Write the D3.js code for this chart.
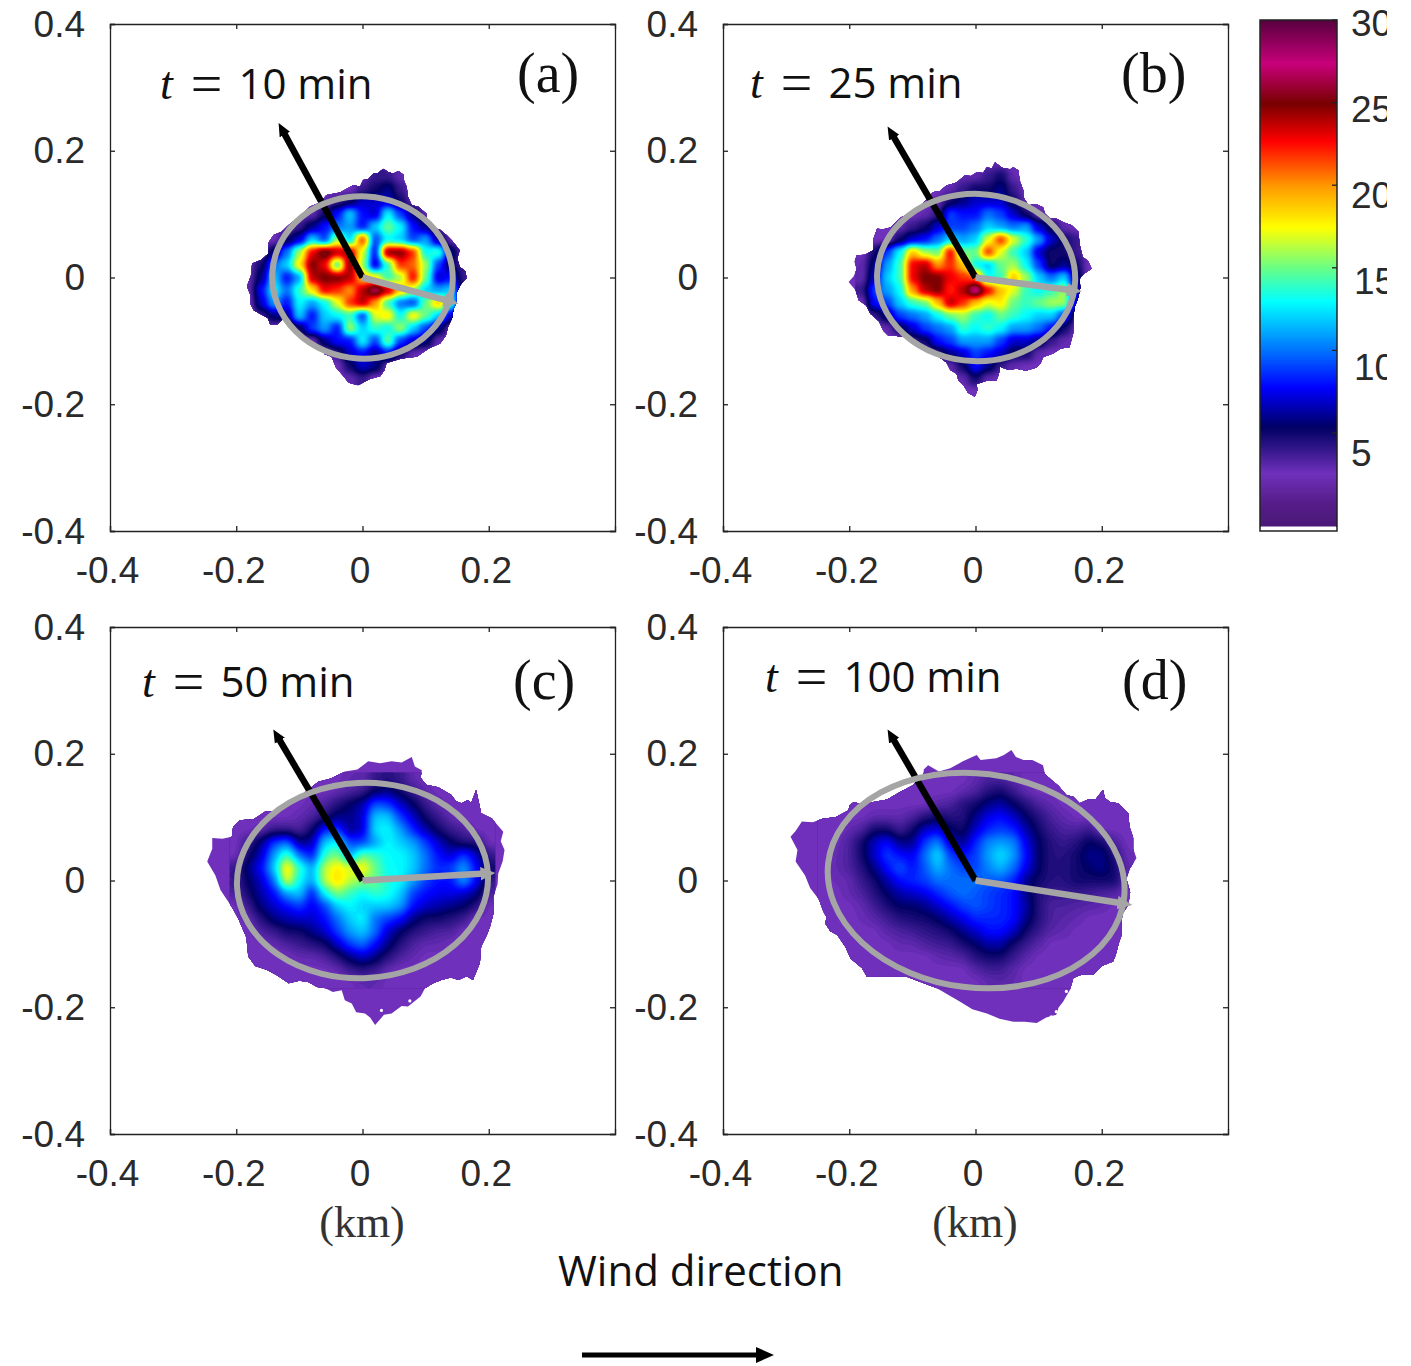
<!DOCTYPE html>
<html>
<head>
<meta charset="utf-8">
<script src="https://cdn.jsdelivr.net/npm/d3@7"></script>
<style>
  body { margin: 0; background: #fff; }
  svg { display: block; }
</style>
</head>
<body>
<div id="plot"></div>
<script>
//-------------------------colour bar------------------------------
const cbValues = [-0.6, 0.8, 2.6, 3.9, 5.4, 7.8, 10, 13, 15, 17.5, 20, 22.7, 25, 27.4, 30];
const cbColors = ["#4a1a78", "#561c88", "#7030bc", "#3a1a90", "#000064", "#0000ff", "#0070ff", "#00ffff",
                  "#66ff88", "#ffff00", "#ff9900", "#ff0000", "#780000", "#c8007a", "#5a0040"];
const cbTicks = [5, 10, 15, 20, 25, 30];

//-------------------------panel axes-------------------------------
const xTicks = [-0.4, -0.2, 0, 0.2];
const yTicks = [-0.4, -0.2, 0, 0.2, 0.4];

//----outlines of the plume, km-------------------------------------
const outlineA = [[.017,.164],[.025,.165],[.033,.172],[.041,.166],[.049,.164],[.057,.168],[.065,.162],[.066,.152],[.070,.143],[.072,.128],[.078,.114],[.088,.112],[.101,.101],[.103,.088],[.109,.078],[.122,.076],[.133,.067],[.142,.058],[.154,.043],[.150,.030],[.154,.017],[.163,.010],[.165,-.001],[.155,-.012],[.149,-.025],[.149,-.038],[.144,-.051],[.142,-.064],[.136,-.077],[.132,-.092],[.123,-.104],[.105,-.112],[.086,-.125],[.062,-.128],[.038,-.135],[.035,-.146],[.028,-.156],[.012,-.160],[-.007,-.170],[-.022,-.166],[-.030,-.156],[-.042,-.142],[-.049,-.125],[-.060,-.121],[-.067,-.109],[-.088,-.099],[-.107,-.083],[-.115,-.070],[-.125,-.064],[-.135,-.074],[-.146,-.075],[-.150,-.064],[-.159,-.059],[-.172,-.052],[-.178,-.041],[-.178,-.027],[-.183,-.014],[-.176,.005],[-.175,.022],[-.160,.028],[-.149,.038],[-.149,.055],[-.141,.067],[-.128,.072],[-.117,.083],[-.098,.097],[-.083,.112],[-.068,.118],[-.057,.130],[-.036,.134],[-.014,.146],[-.004,.143],[.001,.154],[.010,.156]];
const outlineB = [[.031,.182],[.042,.173],[.055,.171],[.060,.174],[.068,.169],[.070,.153],[.076,.137],[.077,.125],[.084,.114],[.096,.116],[.107,.111],[.110,.101],[.118,.093],[.128,.093],[.139,.087],[.152,.083],[.163,.072],[.165,.052],[.170,.032],[.178,.027],[.184,.014],[.172,.006],[.165,-.002],[.166,-.016],[.163,-.031],[.157,-.047],[.155,-.063],[.155,-.087],[.149,-.110],[.135,-.112],[.123,-.120],[.107,-.126],[.103,-.136],[.097,-.142],[.080,-.147],[.065,-.144],[.052,-.146],[.039,-.141],[.037,-.153],[.033,-.163],[.018,-.163],[.002,-.168],[.003,-.178],[-.001,-.188],[-.012,-.182],[-.019,-.170],[-.027,-.163],[-.030,-.152],[-.040,-.146],[-.046,-.134],[-.060,-.124],[-.077,-.110],[-.092,-.102],[-.109,-.089],[-.118,-.094],[-.127,-.092],[-.138,-.092],[-.146,-.084],[-.153,-.069],[-.167,-.057],[-.173,-.044],[-.185,-.036],[-.190,-.020],[-.201,-.007],[-.193,.002],[-.188,.014],[-.192,.025],[-.188,.035],[-.175,.036],[-.162,.043],[-.162,.060],[-.156,.077],[-.146,.076],[-.135,.079],[-.118,.095],[-.101,.103],[-.085,.115],[-.067,.135],[-.057,.136],[-.046,.145],[-.030,.150],[-.017,.161],[-.007,.160],[.002,.166],[.012,.165],[.018,.174],[.026,.172]];
const outlineC = [[.078,.195],[.083,.180],[.094,.174],[.092,.162],[.101,.151],[.120,.147],[.141,.135],[.148,.125],[.157,.122],[.167,.127],[.172,.122],[.180,.143],[.184,.125],[.188,.106],[.205,.098],[.223,.077],[.219,.062],[.225,.048],[.222,.030],[.215,.011],[.214,-.006],[.207,-.026],[.208,-.050],[.202,-.073],[.197,-.086],[.188,-.104],[.186,-.130],[.175,-.157],[.165,-.151],[.152,-.157],[.140,-.153],[.125,-.157],[.112,-.162],[.099,-.170],[.092,-.183],[.072,-.199],[.062,-.198],[.046,-.210],[.034,-.212],[.020,-.228],[.012,-.216],[.004,-.210],[-.010,-.208],[-.017,-.194],[-.028,-.189],[-.033,-.173],[-.047,-.176],[-.059,-.170],[-.072,-.168],[-.086,-.160],[-.100,-.158],[-.117,-.162],[-.135,-.150],[-.152,-.141],[-.170,-.135],[-.181,-.120],[-.184,-.090],[-.196,-.062],[-.205,-.045],[-.225,-.015],[-.233,.008],[-.246,.030],[-.238,.050],[-.238,.067],[-.222,.066],[-.207,.069],[-.205,.085],[-.194,.095],[-.172,.097],[-.154,.109],[-.138,.110],[-.123,.117],[-.100,.132],[-.070,.156],[-.050,.161],[-.028,.172],[-.008,.175],[.009,.188],[.028,.185],[.046,.188],[.062,.186]];
const outlineD = [[.057,.206],[.064,.195],[.076,.190],[.090,.190],[.107,.182],[.110,.168],[.120,.159],[.131,.150],[.144,.135],[.155,.132],[.165,.122],[.178,.128],[.190,.128],[.202,.143],[.205,.130],[.213,.124],[.226,.122],[.242,.106],[.244,.085],[.250,.067],[.250,.050],[.255,.035],[.244,.018],[.239,.003],[.245,-.018],[.242,-.039],[.233,-.052],[.231,-.070],[.232,-.085],[.228,-.096],[.222,-.118],[.218,-.128],[.200,-.135],[.186,-.149],[.170,-.148],[.155,-.154],[.150,-.172],[.139,-.191],[.132,-.200],[.128,-.212],[.112,-.216],[.097,-.225],[.078,-.223],[.060,-.223],[.038,-.218],[.018,-.210],[-.005,-.203],[-.025,-.191],[-.042,-.181],[-.061,-.170],[-.085,-.161],[-.109,-.152],[-.140,-.151],[-.172,-.152],[-.180,-.138],[-.198,-.123],[-.206,-.105],[-.219,-.086],[-.230,-.080],[-.238,-.068],[-.236,-.058],[-.241,-.049],[-.248,-.030],[-.262,-.012],[-.270,.008],[-.285,.030],[-.282,.048],[-.293,.069],[-.285,.078],[-.275,.093],[-.258,.092],[-.241,.098],[-.222,.100],[-.201,.111],[-.200,.118],[-.193,.124],[-.178,.120],[-.162,.124],[-.140,.128],[-.119,.140],[-.100,.150],[-.082,.166],[-.082,.175],[-.075,.182],[-.058,.172],[-.040,.177],[-.020,.188],[.002,.198],[.008,.190],[.033,.193],[.045,.198]];

//----holes at the frayed lower edge, km-----------------------------
const specklesC = [[-.142,-.150],[-.045,-.183],[.075,-.190],[.030,-.205],[.115,-.165]];
const specklesD = [[.144,-.175],[.155,-.165],[.165,-.154],[.157,-.189],[.128,-.207],[.120,-.215],[.134,-.202],[.190,-.150]];

//----concentration, rows top to bottom, 0 = rim--------------------------
// a: x -.18 to .18 step .02, y .16 down
const fieldA = [
  [0,0,0,0,0,0,0,0,0,3,4,4,3,0,0,0,0,0,0],
  [0,0,0,0,0,0,0,0,0,4,5,6,4,0,0,0,0,0,0],
  [0,0,0,0,0,0,3,4,5,7,7,7,5,3,0,0,0,0,0],
  [0,0,0,0,0,3,5,8,12,8,7,13,9,6,3,0,0,0,0],
  [0,0,0,3,4,6,8,10,11,8,12,15,13,8,6,3,0,0,0],
  [0,0,0,5,7,12,9,16,12,22,9,13,12,9,11,6,3,0,0],
  [0,3,6,10,16,23,26,24,24,17,8,25,25,22,13,14,6,3,0],
  [3,5,10,12,18,25,23,14,25,16,7,14,22,21,16,9,5,4,0],
  [3,6,12,8,11,24,25,25,24,19,18,14,16,23,15,7,8,4,0],
  [3,8,13,10,14,18,23,22,20,24,27,24,19,16,12,11,12,5,0],
  [0,7,11,8,13,11,13,17,22,24,20,14,10,9,15,19,14,3,0],
  [0,4,6,6,12,8,12,13,14,9,17,18,13,18,15,12,7,0,0],
  [0,0,0,0,5,9,11,8,16,12,14,13,16,12,9,6,3,0,0],
  [0,0,0,0,0,0,6,8,8,13,9,15,9,7,6,3,0,0,0],
  [0,0,0,0,0,0,0,4,7,8,6,8,5,3,0,0,0,0,0],
  [0,0,0,0,0,0,0,0,5,7,6,3,0,0,0,0,0,0,0],
  [0,0,0,0,0,0,0,0,3,4,0,0,0,0,0,0,0,0,0]
];
// b: x -.18 to .18 step .02, y .18 down
const fieldB = [
  [0,0,0,0,0,0,0,0,0,0,3,3,0,0,0,0,0,0,0],
  [0,0,0,0,0,0,0,0,3,3,4,5,3,0,0,0,0,0,0],
  [0,0,0,0,0,0,0,3,4,5,5,6,4,0,0,0,0,0,0],
  [0,0,0,0,0,0,3,5,6,7,7,7,5,3,0,0,0,0,0],
  [0,0,0,0,0,3,4,9,8,8,10,9,7,5,3,0,0,0,0],
  [0,0,0,3,4,5,7,9,9,10,12,11,10,11,7,5,3,0,0],
  [0,0,0,5,7,8,10,12,11,12,17,22,17,14,11,7,5,4,3],
  [0,5,9,13,19,16,15,23,15,15,22,17,14,12,7,5,5,4,0],
  [3,6,11,14,23,24,20,22,19,13,12,15,16,13,9,5,6,5,0],
  [3,7,12,14,23,25,25,23,22,21,13,14,19,16,12,10,12,6,0],
  [4,9,11,13,20,24,25,22,24,28,23,19,17,14,13,14,16,7,0],
  [0,8,9,12,14,15,19,24,22,19,17,18,15,14,15,16,16,7,0],
  [0,4,6,9,10,11,13,15,16,14,13,15,14,13,12,12,9,4,0],
  [0,0,3,5,7,9,10,11,14,13,14,13,11,11,10,8,5,3,0],
  [0,0,0,0,4,5,8,9,11,11,11,9,7,7,6,4,3,0,0],
  [0,0,0,0,0,0,4,6,7,9,8,7,5,5,3,0,0,0,0],
  [0,0,0,0,0,0,0,3,5,8,6,4,3,0,0,0,0,0,0],
  [0,0,0,0,0,0,0,0,3,5,3,0,0,0,0,0,0,0,0],
  [0,0,0,0,0,0,0,0,0,0,0,0,0,0,0,0,0,0,0]
];
// c: x -.20 to .20 step .02, y .16 down
const fieldC = [
  [0,0,0,0,0,0,0,0,0,3,3,4,4.5,4,3,0,0,0,0,0,0],
  [0,0,0,0,0,0,0,0,3,3.5,4,5.5,6,5,4,3,0,0,0,0,0],
  [0,0,0,0,0,0,3,3.5,4.5,5.5,6.5,9.5,9,7,5.5,4,3,0,0,0,0],
  [0,0,0,0,0,3,3.5,4.5,6,6,7,12,12,9,7,5,4,3,0,0,0],
  [0,0,3,4,4,3.5,5,8.5,9,6,7,12.5,13,11,8.5,6.5,5,4,3.5,0,0],
  [0,4,6,9,10,6,6.5,12,13,9,9,11,13,12,11,9,7,5.5,4.5,4.5,0],
  [0,5,7,11,14.5,10,8,14,15.5,11,15,14,13,13,12,10,8,7,9,7,4],
  [4,6,8,12,18.5,14,11,16.5,18,17,18,15,13,13,12,10,8.5,9,11,8,5],
  [4,5.5,7,10,17.5,13,11,16.5,18.5,16.5,15.5,15,13.5,13,11,9,8,8,11,8,4],
  [3.5,5,6.5,8,11,12,8,13,15.5,14,13,14,13.5,12,9,8,7.5,7.5,7,6,3.5],
  [0,4,6,7,8,9,7.5,9,12,13,12,12,12,11,8,7,6.5,6,5.5,4.5,0],
  [0,3,4.5,6,6.5,7,7,8,10,12,13,10,9,8,6,5,5,4.5,4,0,0],
  [0,0,3.5,4,5,5,6,7,9,11,12,10,7,5.5,4.5,4,3.5,3.5,0,0,0],
  [0,0,0,3,3.5,4,4.5,5,7,9,10,8,6,4.5,3.5,3,3,0,0,0,0],
  [0,0,0,0,0,3,3,3.5,4.5,6,7,6,4.5,3.5,3,0,0,0,0,0,0],
  [0,0,0,0,0,0,0,0,3,4,4.5,4,3,0,0,0,0,0,0,0,0],
  [0,0,0,0,0,0,0,0,0,0,3,3,0,0,0,0,0,0,0,0,0]
];
// d: x -.24 to .24 step .02, y .16 down
const fieldD = [
  [0,0,0,0,0,0,0,0,0,0,0,0,3,3.5,3.5,3,0,0,0,0,0,0,0,0,0],
  [0,0,0,0,0,0,0,0,0,0,0,3,3.5,4.5,5,4,3,0,0,0,0,0,0,0,0],
  [0,0,0,0,0,0,0,0,0,3.2,3.5,4.5,5,6,6.5,5.5,4.5,3.5,3,0,0,0,0,0,0],
  [0,0,0,0,3,3,3,3.5,4.5,5,4.5,4.5,6,7.5,8,7,5.5,4.5,3.5,3,0,0,0,0,0],
  [0,0,3,3.5,5,5,3.8,5,7,7.5,5.5,5,7,8.5,9,8.5,6.5,5,4,3.5,3.5,4,0,0,0],
  [0,2.8,3.5,5,7,8,6,6,9,10.5,7,6,8.5,10.5,11,10.5,7.5,5.5,4.5,4,4.5,5.5,5,3.5,0],
  [0,3,3.5,5,7,9,8,7.5,10,12.5,9,8,9,11,12.5,11,8,5.5,4.5,4.5,5,6,6,4.5,2.8],
  [0,3,3.5,4.5,6,8,9.5,8,9.5,11.5,10,9,9,10.5,11.5,10,7.5,5.5,4.5,4.5,5,5.5,6,5,3],
  [0,2.8,3,4,5,6.5,8,8.5,9,10,10,10,10,9.5,9.5,8.5,6,5,4.5,4.5,5,5,5,5,3],
  [0,0,3,3.5,4.5,5.5,6.5,7,7.5,8.5,9.5,10,9.5,9,8.5,8,6,4.5,4,4,4,3.8,3.5,3.3,0],
  [0,0,0,3,3.8,4.8,5.5,5.5,6,7,8,9,9.5,9,8.5,8,6.5,4.5,3.5,3.5,3.3,3.2,3,0,0],
  [0,0,0,2.8,3.2,3.8,4.5,4.8,5,5.5,6.5,7.5,8.5,8.5,8.5,8,6,4.5,3.5,3.2,3,0,0,0,0],
  [0,0,0,0,0,3.2,3.5,3.8,4.2,4.5,5,6,7,8,8,7,5,4,3.2,3,0,0,0,0,0],
  [0,0,0,0,0,0,3,3,3.5,3.8,4,4.8,5.5,6.5,6.5,5,4,3.2,0,0,0,0,0,0,0],
  [0,0,0,0,0,0,0,0,0,3,3.2,3.5,4.5,5,5,4,3.2,0,0,0,0,0,0,0,0],
  [0,0,0,0,0,0,0,0,0,0,0,0,3.3,3.8,3.8,3.2,0,0,0,0,0,0,0,0,0],
  [0,0,0,0,0,0,0,0,0,0,0,0,0,3,3.2,3,0,0,0,0,0,0,0,0,0]
];
const fieldX0 = [-.18, -.18, -.20, -.24];
const fieldY0 = [.16, .18, .16, .16];
const fieldStep = [.02, .02, .02, .02];

//----fitted ellipse: cx, cy, rx, ry (km), rotation (deg)--------------
const ellipses = [[0,0,.143,.128,3], [.001,0,.157,.132,2], [0,0,.199,.154,-3], [.001,0,.236,.169,7]];
const blackArrows = [[-.126,.231], [-.132,.226], [-.134,.226], [-.132,.226]];
const greyArrows = [[.136,-.037], [.152,-.020], [.194,.011], [.232,-.036]];

const panelNames = ["(a)", "(b)", "(c)", "(d)"];
const timeLabels = ["10 min", "25 min", "50 min", "100 min"];
const outlines = [outlineA, outlineB, outlineC, outlineD];
const fields = [fieldA, fieldB, fieldC, fieldD];
const speckles = [[], [], specklesC, specklesD];

const w = 1411;
const h = 1366;
const restValue = 2.6; //flat purple at the rim

const colorScale = d3.scaleLinear().domain(cbValues).range(cbColors);

const svg = d3.select("#plot").append("svg").attr("width", w).attr("height", h);
svg.append("rect").attr("width", w).attr("height", h).attr("fill", "#fff");

const defs = svg.append("defs");
function addMarker(id, col, size) {
  defs.append("marker")
      .attr("id", id)
      .attr("viewBox", "0 0 10 10")
      .attr("refX", 3)
      .attr("refY", 5)
      .attr("markerUnits", "userSpaceOnUse")
      .attr("markerWidth", size)
      .attr("markerHeight", size)
      .attr("orient", "auto")
      .append("path")
      .attr("d", "M0,0.5L10,5L0,9.5z")
      .attr("fill", col);
}
addMarker("headBlack", "#000", 13);
addMarker("headGrey", "#a5a5a5", 15);

const tickFont = "'Liberation Sans', Arial, sans-serif";
const panelBox = [[110, 24], [723, 24], [110, 627], [723, 627]];
const panelW = 505;
const panelH = 507;

panelBox.forEach((box, i) => drawPanel(i, box[0], box[1]));
drawColorbar();
drawLabels();

function drawPanel(i, left, top) {
  const x = d3.scaleLinear().domain([-.4, .4]).range([left, left + panelW]);
  const y = d3.scaleLinear().domain([-.4, .4]).range([top + panelH, top]);
  const g = svg.append("g");

  const clipId = "clip" + i;
  const outlinePath = d3.line().x(d => x(d[0])).y(d => y(d[1])).curve(d3.curveLinearClosed);
  defs.append("clipPath").attr("id", clipId).append("path").attr("d", outlinePath(outlines[i]));

  g.append("path").attr("d", outlinePath(outlines[i])).attr("fill", colorScale(restValue));

  //-------------------------plume------------------------------
  const rows = fields[i];
  const k = 8;
  const nx = rows[0].length * k;
  const ny = rows.length * k;
  const data = new Float64Array(nx * ny);
  for (let r = 0; r < ny; r++) {
    for (let c = 0; c < nx; c++) {
      data[r * nx + c] = rows[Math.floor(r / k)][Math.floor(c / k)] || restValue;
    }
  }
  d3.blur2({data: data, width: nx, height: ny}, i < 2 ? 1.6 : 2.4);

  const thresholds = d3.range(0.5, 30, 0.25);
  const bands = d3.contours().size([nx, ny]).thresholds(thresholds)(data);
  const step = fieldStep[i];
  const toKm = d3.geoTransform({
    point: function(cx, cy) {
      this.stream.point(x(fieldX0[i] + (cx / k - 0.5) * step), y(fieldY0[i] - (cy / k - 0.5) * step));
    }
  });
  g.append("g")
      .attr("clip-path", "url(#" + clipId + ")")
      .selectAll("path")
      .data(bands)
      .enter()
      .append("path")
      .attr("d", d3.geoPath(toKm))
      .attr("fill", d => colorScale(d.value + 0.125));

  g.selectAll("circle.speck")
      .data(speckles[i])
      .enter()
      .append("circle")
      .attr("class", "speck")
      .attr("cx", d => x(d[0]))
      .attr("cy", d => y(d[1]))
      .attr("r", 1.6)
      .attr("fill", "#fff");

  //-------------------------ellipse and axes arrows------------
  const e = ellipses[i];
  g.append("line")
      .attr("x1", x(0)).attr("y1", y(0))
      .attr("x2", x(blackArrows[i][0])).attr("y2", y(blackArrows[i][1]))
      .attr("stroke", "#000").attr("stroke-width", 6.5)
      .attr("marker-end", "url(#headBlack)");
  g.append("ellipse")
      .attr("cx", x(e[0])).attr("cy", y(e[1]))
      .attr("rx", x(e[2]) - x(0)).attr("ry", y(0) - y(e[3]))
      .attr("transform", "rotate(" + e[4] + " " + x(e[0]) + " " + y(e[1]) + ")")
      .attr("fill", "none").attr("stroke", "#a5a5a5").attr("stroke-width", 6);
  g.append("line")
      .attr("x1", x(0)).attr("y1", y(0))
      .attr("x2", x(greyArrows[i][0])).attr("y2", y(greyArrows[i][1]))
      .attr("stroke", "#a5a5a5").attr("stroke-width", 6.5)
      .attr("marker-end", "url(#headGrey)");

  //-------------------------axes-------------------------------
  const bottom = d3.axisBottom(x).tickValues(xTicks).tickFormat(String).tickSize(-5).tickPadding(26);
  const leftAxis = d3.axisLeft(y).tickValues(yTicks).tickFormat(String).tickSize(-5).tickPadding(25);
  const topAxis = d3.axisTop(x).tickValues(xTicks).tickFormat("").tickSize(-5);
  const rightAxis = d3.axisRight(y).tickValues(yTicks).tickFormat("").tickSize(-5);

  const axes = [
    g.append("g").attr("transform", "translate(0," + (top + panelH) + ")").call(bottom),
    g.append("g").attr("transform", "translate(" + left + ",0)").call(leftAxis),
    g.append("g").attr("transform", "translate(0," + top + ")").call(topAxis),
    g.append("g").attr("transform", "translate(" + (left + panelW) + ",0)").call(rightAxis)
  ];
  axes.forEach(a => {
    a.selectAll("path").attr("stroke", "#222").attr("stroke-width", 1.3);
    a.selectAll("line").attr("stroke", "#222").attr("stroke-width", 1.3);
    a.selectAll("text").attr("font-family", tickFont).attr("font-size", 37).attr("fill", "#2a2a2a");
  });
  axes[0].selectAll("text").attr("dx", -3).attr("dy", "0.71em");
  axes[1].selectAll("text").attr("dy", "0.33em");
}

function drawColorbar() {
  const cy = d3.scaleLinear().domain([5, 30]).range([433, 20]);
  const cbLeft = 1260;
  const cbRight = 1337;
  const labelY = d3.scaleLinear().domain([5, 30]).range([453, 23]); //labels sit lower than their ticks

  defs.append("clipPath").attr("id", "cbClip").append("rect").attr("width", 1387).attr("height", h);

  const g = svg.append("g").attr("clip-path", "url(#cbClip)");
  g.selectAll("rect.cell")
      .data(d3.range(-0.6, 30, 0.05))
      .enter()
      .append("rect")
      .attr("class", "cell")
      .attr("x", cbLeft)
      .attr("y", d => cy(d + 0.05))
      .attr("width", cbRight - cbLeft)
      .attr("height", d => cy(d) - cy(d + 0.05) + 1)
      .attr("shape-rendering", "crispEdges")
      .attr("fill", d => colorScale(d + 0.025));
  g.append("rect")
      .attr("x", cbLeft + 1).attr("y", 526.5)
      .attr("width", cbRight - cbLeft - 2).attr("height", 3.5)
      .attr("fill", "#fff");
  g.append("rect")
      .attr("x", cbLeft).attr("y", 20)
      .attr("width", cbRight - cbLeft).attr("height", 511)
      .attr("fill", "none").attr("stroke", "#222").attr("stroke-width", 1.5);
  g.selectAll("line")
      .data(cbTicks)
      .enter()
      .append("line")
      .attr("x1", cbRight - 5).attr("x2", cbRight)
      .attr("y1", d => cy(d)).attr("y2", d => cy(d))
      .attr("stroke", "#222").attr("stroke-width", 1.3);
  g.selectAll("text")
      .data(cbTicks)
      .enter()
      .append("text")
      .attr("x", d => (d === 10 || d === 15) ? 1354 : 1351)
      .attr("y", d => labelY(d))
      .attr("dy", "0.34em")
      .attr("font-family", tickFont)
      .attr("font-size", 37)
      .attr("fill", "#2a2a2a")
      .text(d => d);
}

function drawLabels() {
  const titlePos = [[160, 99], [750, 98], [142, 697], [765, 692]];
  const namePos = [[517, 92], [1121, 92], [513, 699], [1122, 699]];
  const bodyFont = "'Open Sans', 'Noto Sans', sans-serif";
  const serifFont = "'Liberation Serif', 'Times New Roman', serif";

  titlePos.forEach((p, i) => {
    const t = svg.append("text")
        .attr("x", p[0]).attr("y", p[1])
        .attr("font-family", bodyFont).attr("font-size", 42).attr("fill", "#111");
    t.append("tspan").attr("font-family", serifFont).attr("font-style", "italic").attr("font-size", 46).text("t");
    t.append("tspan").attr("font-family", serifFont).attr("font-size", 56).attr("dx", 18).attr("dy", 4).text("=");
    t.append("tspan").attr("dx", 16).attr("dy", -4).text(timeLabels[i]);
  });
  namePos.forEach((p, i) => {
    svg.append("text")
        .attr("x", p[0]).attr("y", p[1])
        .attr("font-family", serifFont).attr("font-size", 56).attr("fill", "#111")
        .text(panelNames[i]);
  });
  [362, 975].forEach(cx => {
    svg.append("text")
        .attr("x", cx).attr("y", 1237)
        .attr("text-anchor", "middle")
        .attr("font-family", serifFont).attr("font-size", 44).attr("fill", "#333")
        .text("(km)");
  });
  svg.append("text")
      .attr("x", 558).attr("y", 1286)
      .attr("font-family", bodyFont).attr("font-size", 42).attr("fill", "#111")
      .text("Wind direction");

  //wind arrow under the figure
  svg.append("line")
      .attr("x1", 582).attr("y1", 1355).attr("x2", 758).attr("y2", 1355)
      .attr("stroke", "#000").attr("stroke-width", 5);
  svg.append("path")
      .attr("d", "M756,1347L774,1355L756,1363z")
      .attr("fill", "#000");
}
</script>
</body>
</html>
